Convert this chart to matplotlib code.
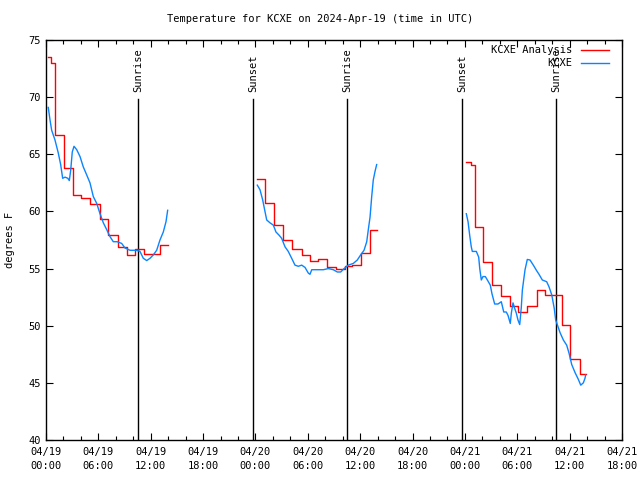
import matplotlib
matplotlib.use('Agg')
import matplotlib.pyplot as plt

# time axis = hours since 2024-04-19 00:00 UTC
# analysis (hourly steps); last point is the end of each run
red1_t = [0.25, 0.6, 1.05, 2.1, 3.1, 4.0, 5.05, 6.2, 7.15, 8.25, 9.3, 10.2, 11.2, 13.1, 13.95]
red1_v = [73.5, 73.0, 66.7, 63.8, 61.4, 61.2, 60.65, 59.3, 57.9, 56.9, 56.2, 56.7, 56.25, 57.1, 57.1]
red2_t = [24.2, 25.1, 26.1, 27.2, 28.15, 29.3, 30.3, 31.2, 32.2, 33.2, 34.25, 35.05, 36.15, 37.1, 37.9]
red2_v = [62.8, 60.7, 58.8, 57.5, 56.7, 56.2, 55.65, 55.8, 55.1, 55.0, 55.25, 55.3, 56.4, 58.4, 58.4]
red3_t = [48.15, 48.7, 49.1, 50.1, 51.1, 52.1, 53.15, 54.1, 55.15, 56.25, 57.2, 59.1, 60.05, 61.2, 61.85]
red3_v = [64.35, 64.05, 58.6, 55.55, 53.6, 52.6, 51.7, 51.2, 51.7, 53.1, 52.7, 50.1, 47.05, 45.8, 45.8]

# observations
blue1_t = [0.26, 0.46, 0.65, 1.03, 1.41, 1.68, 1.91, 2.18, 2.5, 2.67, 2.83, 3.01, 3.21, 3.52, 3.9,
           4.27, 4.66, 5.04, 5.42, 5.81, 6.19, 6.57, 6.96, 7.33, 7.71, 8.17, 8.67, 9.05, 9.63,
           10.0, 10.39, 10.77, 11.15, 11.54, 11.92, 12.3, 12.68, 13.06, 13.44, 13.75, 13.94]
blue1_v = [69.1, 68.0, 67.1, 66.25, 65.1, 64.1, 62.9, 63.0, 62.9, 62.7, 63.6, 65.2, 65.7, 65.4, 64.8,
           63.9, 63.2, 62.5, 61.3, 60.7, 59.8, 59.0, 58.4, 57.8, 57.35, 57.35, 57.2, 56.8, 56.6,
           56.6, 56.6, 56.5, 55.9, 55.7, 55.9, 56.2, 56.6, 57.5, 58.2, 59.1, 60.1]
blue2_t = [24.21, 24.52, 24.83, 25.09, 25.29, 25.67, 26.05, 26.35, 26.73, 27.0, 27.39, 27.76,
           28.15, 28.53, 28.91, 29.3, 29.68, 30.06, 30.25, 30.45, 31.02, 31.78, 32.35, 32.92,
           33.38, 33.77, 34.15, 34.64, 35.21, 35.67, 36.06, 36.44, 36.75, 36.93, 37.13, 37.32,
           37.5, 37.7, 37.89]
blue2_v = [62.3, 61.9, 61.0, 60.0, 59.25, 59.0, 58.8, 58.2, 57.9, 57.65, 56.9, 56.5,
           55.9, 55.3, 55.2, 55.3, 55.1, 54.6, 54.5, 54.9, 54.9, 54.9, 55.0, 54.9,
           54.7, 54.7, 55.0, 55.3, 55.45, 55.75, 56.2, 56.6, 57.35, 58.4, 59.5, 61.3,
           62.75, 63.5, 64.1]
blue3_t = [48.16, 48.36, 48.55, 48.73, 48.85, 49.31, 49.58, 49.7, 49.88, 50.07, 50.34, 50.65,
           50.91, 51.1, 51.41, 51.79, 52.17, 52.45, 52.74, 52.94, 53.2, 53.32, 53.51, 53.71,
           53.89, 54.08, 54.28, 54.46, 54.58, 54.75, 54.89, 55.15, 55.46, 55.84, 56.23, 56.49,
           56.87, 57.37, 57.64, 57.95, 58.24, 58.4, 58.63, 58.9, 59.28, 59.66, 59.93, 60.24,
           60.62, 61.0, 61.27, 61.57, 61.76, 61.84]
blue3_v = [59.8, 59.1, 57.9, 56.9, 56.5, 56.5, 56.0, 55.0, 54.0, 54.3, 54.3, 53.9,
           53.55, 52.8, 51.9, 51.9, 52.1, 51.2, 51.2, 50.9, 50.2, 51.1, 52.0, 51.5,
           51.1, 50.5, 50.1, 51.6, 53.1, 54.1, 54.9, 55.8, 55.75, 55.3, 54.8, 54.5,
           54.0, 53.85, 53.4, 52.7, 51.5, 50.5, 50.0, 49.4, 48.75, 48.3, 47.6, 46.6,
           45.9, 45.3, 44.8, 45.0, 45.4, 45.7]

sun_t = [10.58, 23.76, 34.53, 47.7, 58.47]
sun_labels = ["Sunrise", "Sunset", "Sunrise", "Sunset", "Sunrise"]

xticks = [0, 6, 12, 18, 24, 30, 36, 42, 48, 54, 60, 66]
xlabels = ["04/19\n00:00", "04/19\n06:00", "04/19\n12:00", "04/19\n18:00",
           "04/20\n00:00", "04/20\n06:00", "04/20\n12:00", "04/20\n18:00",
           "04/21\n00:00", "04/21\n06:00", "04/21\n12:00", "04/21\n18:00"]
yticks = [40, 45, 50, 55, 60, 65, 70, 75]

red_col = '#ff0000'
blue_col = '#0a84ff'

plt.rcParams['font.family'] = 'DejaVu Sans Mono'
plt.rcParams['font.size'] = 7

fig = plt.figure(figsize=(6.4, 4.8), dpi=100)
ax = fig.add_axes([46 / 640, 40 / 480, 576 / 640, 400 / 480])

for st, lab in zip(sun_t, sun_labels):
    ax.plot([st, st], [40, 69.85], color='black', lw=1)
    ax.text(st, 70.45, lab, rotation=90, ha='center', va='bottom', fontsize=7.5)

first = True
for tt, vv in [(red1_t, red1_v), (red2_t, red2_v), (red3_t, red3_v)]:
    ax.plot(tt, vv, color=red_col, lw=1, drawstyle='steps-post',
            label='KCXE Analysis' if first else None)
    first = False
first = True
for tt, vv in [(blue1_t, blue1_v), (blue2_t, blue2_v), (blue3_t, blue3_v)]:
    ax.plot(tt, vv, color=blue_col, lw=1, label='KCXE' if first else None)
    first = False

ax.set_xlim(0, 66)
ax.set_ylim(40, 75)
ax.set_xticks(xticks)
ax.set_xticklabels(xlabels, linespacing=1.5)
ax.set_xticks(range(0, 67, 2), minor=True)
ax.set_yticks(yticks)
ax.tick_params(which='both', direction='in', top=True, right=True)
ax.tick_params(which='major', length=5, width=0.8, labelsize=7.5)
ax.tick_params(axis='x', which='major', pad=5)
ax.tick_params(axis='y', which='major', pad=4)
ax.tick_params(which='minor', length=3, width=0.8)
for s in ax.spines.values():
    s.set_linewidth(1)

ax.legend(loc='upper right', bbox_to_anchor=(1 - 8 / 576, 1), frameon=False,
          markerfirst=False, fontsize=7.5,
          handlelength=2.7, handletextpad=0.8, labelspacing=0.3,
          borderaxespad=0.2, borderpad=0.3)

fig.text(0.5, 1 - 19 / 480, "Temperature for KCXE on 2024-Apr-19 (time in UTC)",
         ha='center', va='center', fontsize=7.5)
fig.text(10 / 640, 0.5, "degrees F", rotation=90, ha='center', va='center', fontsize=7.5)

fig.savefig('out.png', dpi=100)
